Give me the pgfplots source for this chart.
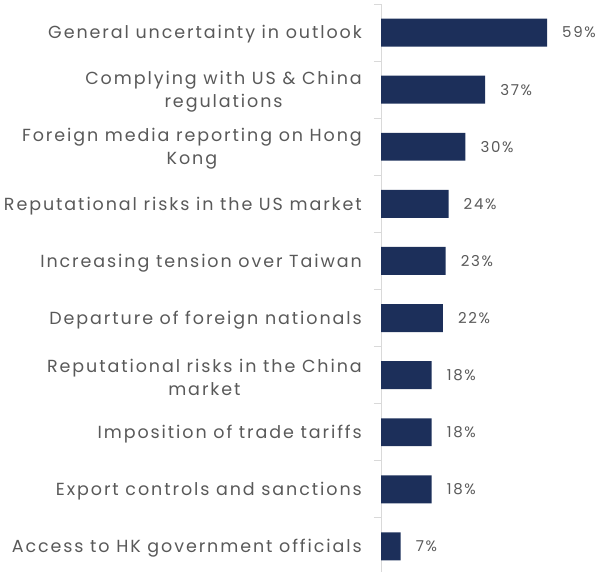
\documentclass[border=0pt]{standalone}
\usepackage{fontspec}
\setmainfont{Poppins}[LetterSpace=11]
\usepackage{pgfplots}
\pgfplotsset{compat=1.18}
\definecolor{barnavy}{HTML}{1C2F5A}
\definecolor{txtgray}{HTML}{595959}
\definecolor{axgray}{HTML}{D9D9D9}
\begin{document}
\begin{tikzpicture}
\useasboundingbox (0,0) rectangle (616bp,572bp);
\begin{axis}[
  at={(381bp,-3bp)}, anchor=south west,
  scale only axis,
  width=235bp, height=571bp,
  xbar, bar width=0.49,
  xmin=0, xmax=83.5,
  ymin=-0.5, ymax=9.5,
  y dir=reverse,
  hide x axis,
  axis y line*=left,
  axis line style={axgray, line width=1pt, -},
  ytick={0,...,9},
  yticklabels={
    General uncertainty in outlook,
    {Complying with US \& China\\regulations},
    {Foreign media reporting on Hong\\Kong},
    Reputational risks in the US market,
    Increasing tension over Taiwan,
    Departure of foreign nationals,
    {Reputational risks in the China\\market},
    Imposition of trade tariffs,
    Export controls and sanctions,
    Access to HK government officials},
  major tick length=0pt,
  yticklabel style={font=\fontsize{17.5bp}{23bp}\selectfont, text=txtgray, align=center, anchor=east, inner sep=0pt, xshift=-19bp, yshift=-2bp},
  extra y ticks={-0.5,0.5,...,9.5},
  extra y tick labels={},
  extra y tick style={major tick length=7bp, tick align=outside, tick style={axgray, line width=1pt}},
  /pgf/number format/assume math mode=true,
  nodes near coords={\pgfmathprintnumber{\pgfplotspointmeta}\%},
  nodes near coords style={font=\fontsize{15bp}{17bp}\selectfont, text=txtgray, anchor=west, inner sep=0pt, xshift=15bp},
  clip=false,
]
\addplot[fill=barnavy, draw=none] coordinates {
(59,0) (37,1) (30,2) (24,3) (23,4) (22,5) (18,6) (18,7) (18,8) (7,9)};
\end{axis}
\end{tikzpicture}
\end{document}
